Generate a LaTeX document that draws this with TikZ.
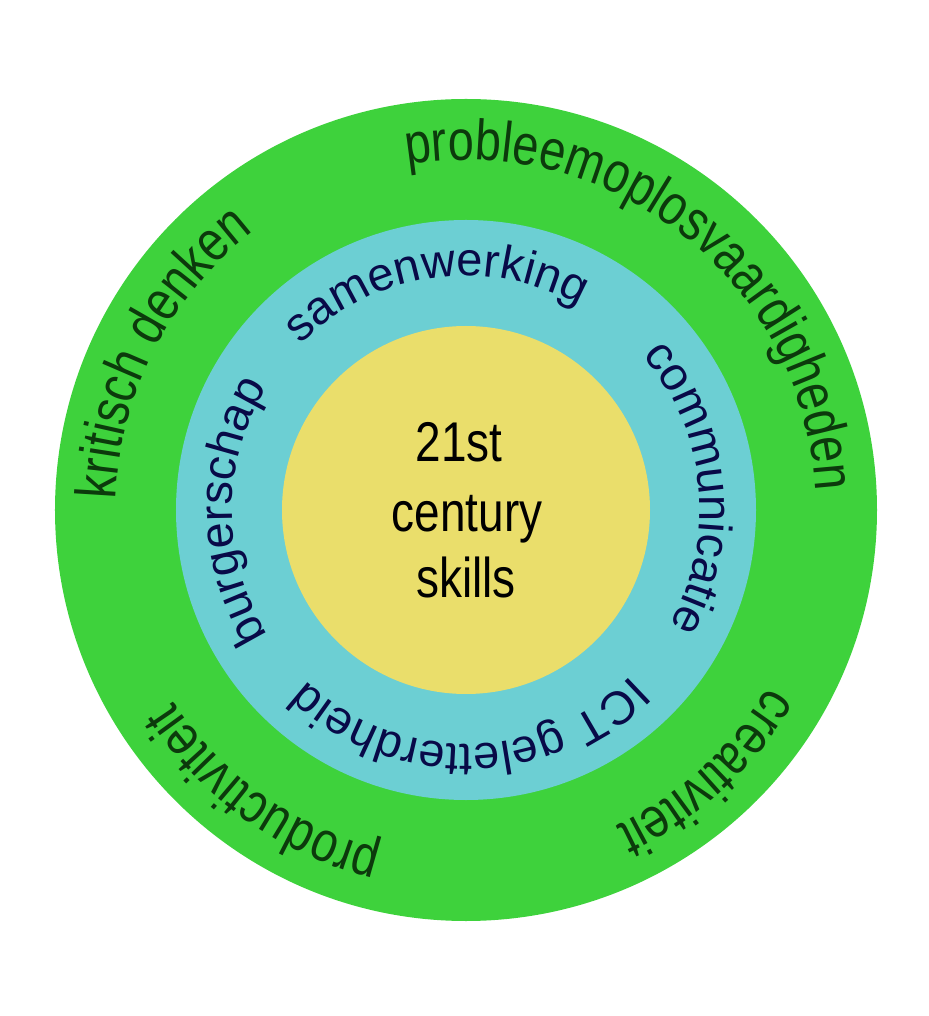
\documentclass[tikz,border=0pt]{standalone}
\usepackage{fontspec}
\setmainfont{Liberation Sans}
\newfontfamily\narrowfont[FakeStretch=0.82]{Liberation Sans}
\newfontfamily\plainfont{Liberation Sans}
\usetikzlibrary{decorations.text}
\definecolor{ringgreen}{RGB}{62,210,60}
\definecolor{ringcyan}{RGB}{108,207,211}
\definecolor{coreyellow}{RGB}{234,222,107}
\definecolor{outertext}{RGB}{12,58,12}
\definecolor{middletext}{RGB}{8,10,72}
\newcommand\ringouterfont{\narrowfont\fontsize{57}{68}\selectfont}
\newcommand\ringmiddlefont{\plainfont\fontsize{47}{56}\selectfont}
\newcommand\ringcorefont{\narrowfont\fontsize{56}{68}\selectfont}
\tikzset{
  outerlabel/.style={decorate, decoration={text along path, text align=center,
      text color=outertext, text={|\ringouterfont|#1}}},
  middlelabel/.style={decorate, decoration={text along path, text align=center,
      text color=middletext, text={|\ringmiddlefont|#1}}},
  coretext/.style={anchor=base, inner sep=0pt, font=\ringcorefont, text=black},
}
\begin{document}
\begin{tikzpicture}
\useasboundingbox (-466pt,-506pt) rectangle (462pt,510pt);
\fill[ringgreen] (0,0) circle[radius=411pt];
\fill[ringcyan] (0,0) circle[radius=290pt];
\fill[coreyellow] (0,0) circle[radius=184pt];
% outer ring labels
\path[outerlabel={probleemoplosvaardigheden}] (136.4:350pt) arc[start angle=136.4, end angle=-33.6, radius=350pt];
\path[outerlabel={kritisch denken}] (222.8:350pt) arc[start angle=222.8, end angle=82.8, radius=350pt];
\path[outerlabel={productiviteit}] (304.6:350pt) arc[start angle=304.6, end angle=164.6, radius=350pt];
\path[outerlabel={creativiteit}] (22.5:350pt) arc[start angle=22.5, end angle=-117.5, radius=350pt];
% middle ring labels
\path[middlelabel={samenwerking}] (168:234pt) arc[start angle=168, end angle=28, radius=234pt];
\path[middlelabel={communicatie}] (75.8:234pt) arc[start angle=75.8, end angle=-64.2, radius=234pt];
\path[middlelabel={ICT geletterdheid}] (-9:234pt) arc[start angle=-9, end angle=-169, radius=234pt];
\path[middlelabel={burgerschap}] (250.3:234pt) arc[start angle=250.3, end angle=110.3, radius=234pt];
% core
\node[coretext] (l1) at (-7pt,48pt) {21st};
\node[coretext] (l2) at (1pt,-22pt) {century};
\node[coretext] (l3) at (0pt,-88pt) {skills};
\end{tikzpicture}
\end{document}
